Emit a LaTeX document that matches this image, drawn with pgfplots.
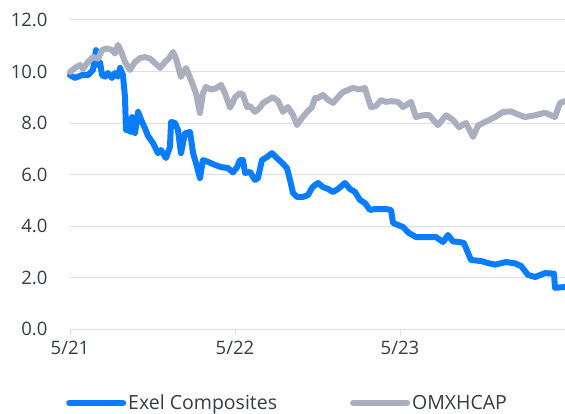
\documentclass[border=0pt]{standalone}
\usepackage{pgfplots}
\pgfplotsset{compat=1.18}
\usepackage{fontspec}
\setmainfont{Open Sans}
\definecolor{exel}{RGB}{10,124,255}
\definecolor{omx}{RGB}{170,175,192}
\definecolor{gridc}{RGB}{222,223,228}
\definecolor{txt}{RGB}{52,60,70}
\begin{document}
\begin{tikzpicture}
\path[use as bounding box] (0,0) rectangle (565pt,413pt);
\begin{axis}[
  at={(70pt,84pt)}, anchor=south west,
  scale only axis, width=495pt, height=309pt,
  xmin=0, xmax=36, ymin=0, ymax=12,
  clip=false,
  axis x line*=bottom, axis y line*=left,
  x axis line style={draw=gridc, line width=1pt, -},
  y axis line style={draw=none},
  xtick={0,12,24}, xticklabels={5/21,5/22,5/23},
  ytick={0,2,...,12},
  tick align=outside,
  major tick length=6pt,
  xtick style={draw=gridc, line width=1pt},
  ytick style={draw=none},
  ymajorgrids, grid style={draw=gridc, line width=1pt},
  font=\fontsize{18.5}{22}\selectfont,
  tick label style={text=txt},
  /pgf/number format/assume math mode=true,
  yticklabel={\pgfmathprintnumber[fixed,fixed zerofill,precision=1]{\tick}},
  yticklabel style={xshift=-13pt},
  xticklabel style={yshift=-3pt},
  legend style={at={(axis description cs:0,0)}, anchor=west, xshift=-4pt, yshift=-74pt,
    draw=none, fill=none, inner sep=0pt, text=txt,
    font=\fontsize{19.5}{22}\selectfont,
    legend columns=2,
    /tikz/every even column/.append style={column sep=71pt},
    nodes={inner sep=2pt}},
  legend image code/.code={\draw[#1, line width=6pt, line cap=round] (0pt,0pt) -- (54pt,0pt);},
  every axis plot/.append style={line width=6pt, line join=round, line cap=round},
]
\addplot[color=exel, no markers] coordinates {
(0,9.86) (0.36,9.75) (0.87,9.86) (1.31,9.86) (1.67,10.06) (1.89,10.83) (2.04,10.25) (2.18,10.37)
(2.33,9.86) (2.55,9.8) (2.76,9.94) (3.05,9.75) (3.27,9.94) (3.49,9.8) (3.64,10.14) (3.85,9.86)
(4.0,9.0) (4.07,7.73) (4.22,7.73) (4.44,7.65) (4.51,8.23) (4.73,7.61) (4.95,8.43) (5.24,8.04)
(5.45,7.8) (5.67,7.5) (6.04,7.22) (6.4,6.83) (6.62,6.95) (6.98,6.64) (7.27,7.07) (7.35,8.04)
(7.64,8.0) (7.85,7.73) (8.07,6.83) (8.36,7.6) (8.73,7.65) (8.95,6.83) (9.16,6.45) (9.45,5.86)
(9.67,6.56) (10.04,6.49) (10.55,6.37) (10.98,6.29) (11.49,6.25) (11.85,6.08) (12.15,6.29)
(12.36,6.56) (12.58,6.56) (12.73,6.06) (13.09,6.1) (13.45,5.79) (13.67,5.86) (13.96,6.56)
(14.33,6.68) (14.69,6.83) (15.05,6.64) (15.42,6.45) (15.78,6.25) (16.0,5.79) (16.22,5.28)
(16.51,5.13) (16.95,5.13) (17.31,5.2) (17.6,5.48) (17.82,5.59) (18.04,5.67) (18.4,5.51)
(18.76,5.44) (19.13,5.32) (19.49,5.44) (20.0,5.67) (20.36,5.44) (20.73,5.32) (21.09,5.01)
(21.45,4.89) (21.82,4.62) (22.18,4.66) (22.98,4.66) (23.35,4.62) (23.49,4.12) (23.85,4.04)
(24.22,3.96) (24.65,3.73) (25.16,3.57) (25.89,3.57) (26.62,3.57) (27.13,3.38) (27.49,3.65)
(27.85,3.4) (28.29,3.38) (28.65,3.34) (28.95,2.95) (29.16,2.68) (29.89,2.64) (30.4,2.56)
(30.91,2.5) (31.71,2.6) (32.36,2.55) (32.8,2.45) (33.31,2.1) (33.82,2.02) (34.55,2.17)
(35.2,2.15) (35.27,1.6) (36.0,1.63)
};
\addlegendentry{Exel Composites}
\addplot[color=omx, no markers] coordinates {
(0,9.98) (0.36,10.14) (0.73,10.25) (0.95,10.1) (1.31,10.37) (1.67,10.56) (2.04,10.5) (2.33,10.83)
(2.69,10.9) (3.05,10.83) (3.27,10.7) (3.49,11.03) (3.78,10.7) (4.0,10.37) (4.36,10.06) (4.73,10.37)
(5.09,10.52) (5.45,10.56) (5.82,10.5) (6.18,10.33) (6.55,10.14) (6.91,10.37) (7.27,10.56)
(7.49,10.76) (7.71,10.5) (8.07,9.79) (8.44,10.14) (8.8,9.67) (9.16,9.16) (9.45,8.39) (9.67,9.16)
(9.89,9.4) (10.25,9.3) (10.62,9.35) (10.98,9.48) (11.27,9.16) (11.64,8.6) (11.85,8.8) (12.0,9.0)
(12.36,9.16) (12.58,9.1) (12.87,8.62) (13.09,8.66) (13.45,8.43) (13.82,8.6) (14.04,8.78)
(14.4,8.89) (14.76,9.0) (15.13,8.85) (15.49,8.43) (15.85,8.62) (16.22,8.31) (16.51,7.92)
(16.87,8.19) (17.24,8.43) (17.6,8.62) (17.82,8.97) (18.04,8.97) (18.4,9.09) (18.76,8.9)
(19.13,8.78) (19.49,9.0) (19.85,9.2) (20.22,9.28) (20.58,9.36) (21.09,9.3) (21.45,9.36)
(21.67,8.97) (21.89,8.62) (22.25,8.66) (22.62,8.89) (22.98,8.82) (23.35,8.85) (23.85,8.82)
(24.22,8.62) (24.8,8.82) (25.16,8.23) (25.67,8.3) (26.11,8.31) (26.76,7.92) (27.35,8.3)
(27.85,8.12) (28.29,7.84) (28.8,8.0) (29.31,7.46) (29.67,7.9) (30.18,8.04) (30.91,8.23)
(31.49,8.43) (32.07,8.45) (32.58,8.33) (33.09,8.23) (33.82,8.3) (34.55,8.4) (35.27,8.23)
(35.64,8.78) (36.0,8.85)
};
\addlegendentry{OMXHCAP}
\end{axis}
\end{tikzpicture}
\end{document}
